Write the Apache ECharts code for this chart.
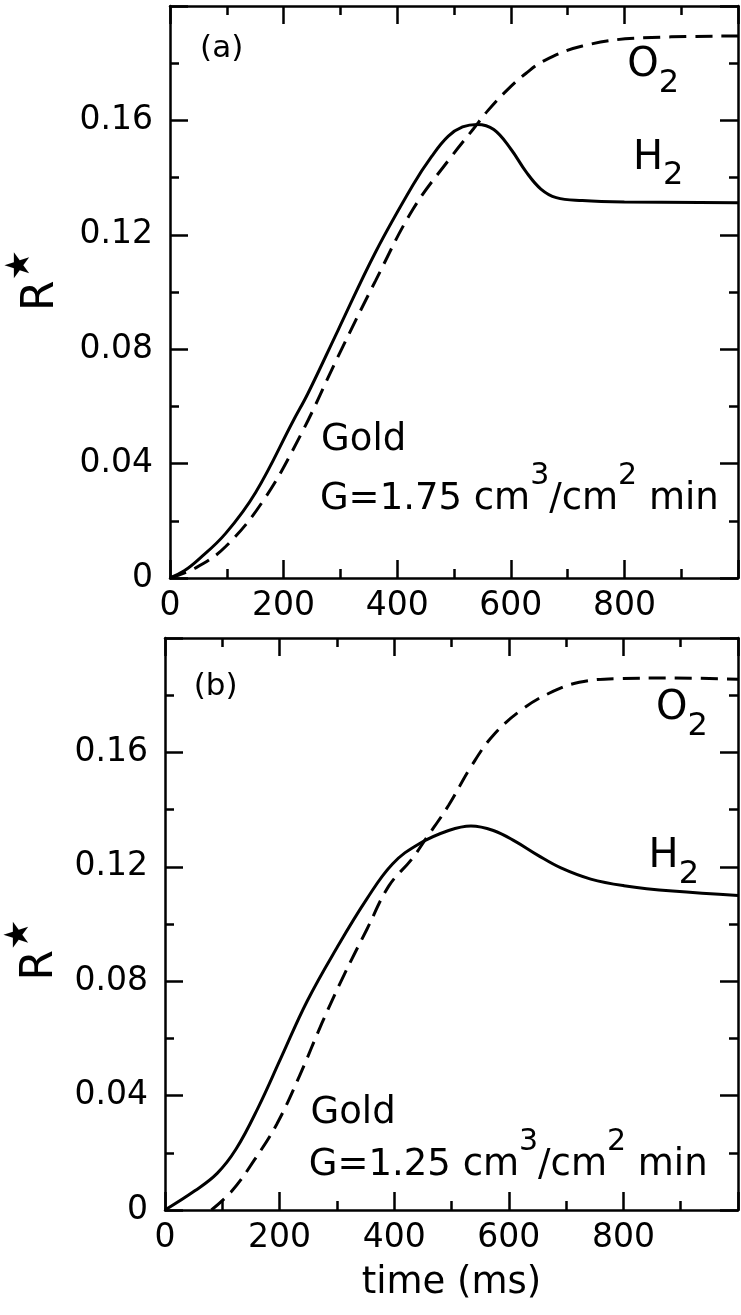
<!DOCTYPE html>
<html><head><meta charset="utf-8">
<script src="https://cdn.jsdelivr.net/npm/echarts@6/dist/echarts.min.js"></script>
<style>html,body{margin:0;padding:0;background:#fff}#c{width:741px;height:1315px}</style>
</head><body><div id="c"></div>
<script>
// ---- data (time in ms, R*) ----
const xTickValues = [0, 200, 400, 600, 800];
const yTickValues = [0, 0.04, 0.08, 0.12, 0.16];

// Panel (a): Gold, G = 1.75
const aH2_t = [0, 25, 51, 98, 151, 217, 243, 296, 362, 428, 461, 490, 515, 541, 570, 600, 627, 653, 680, 726, 800, 1000];
const aH2_r = [0, 0.0025, 0.0066, 0.0156, 0.030, 0.055, 0.0646, 0.0867, 0.114, 0.1375, 0.1475, 0.1545, 0.1577, 0.1586, 0.1568, 0.150, 0.142, 0.136, 0.133, 0.132, 0.1315, 0.1312];
const aO2_t = [0, 45, 98, 164, 230, 296, 362, 428, 494, 534, 560, 593, 627, 660, 726, 825, 1000];
const aO2_r = [0, 0.0035, 0.011, 0.027, 0.050, 0.0775, 0.104, 0.129, 0.147, 0.157, 0.1635, 0.1705, 0.1765, 0.181, 0.186, 0.1888, 0.1895];

// Panel (b): Gold, G = 1.25
const bH2_t = [0, 52, 91, 124, 163, 202, 248, 300, 352, 397, 443, 495, 534, 573, 612, 651, 691, 743, 801, 886, 1000];
const bH2_r = [0, 0.0067, 0.0128, 0.0213, 0.036, 0.053, 0.073, 0.0917, 0.1087, 0.121, 0.128, 0.1327, 0.1343, 0.1327, 0.1288, 0.124, 0.1196, 0.1157, 0.1134, 0.1115, 0.1100];
const bO2_t = [81, 117, 156, 195, 235, 274, 313, 352, 391, 430, 456, 495, 534, 573, 625, 678, 723, 788, 886, 1000];
const bO2_r = [0, 0.0067, 0.0175, 0.030, 0.047, 0.0654, 0.0824, 0.098, 0.1134, 0.1225, 0.130, 0.1415, 0.155, 0.166, 0.1753, 0.1814, 0.1845, 0.1858, 0.186, 0.1856];

const panelLabels = ['(a)', '(b)'];
const goldLabel = 'Gold';
const flowLabels = [['G=1.75 cm', '3', '/cm', '2', ' min'], ['G=1.25 cm', '3', '/cm', '2', ' min']];

// ---- chart ----
const FONT = 'DejaVu Sans';
const BLACK = '#000';
const zip = (t, r) => t.map((v, i) => [v, r[i]]);

const chart = echarts.init(document.getElementById('c'), null, {renderer: 'canvas'});

const grids = [
  {left: 170, top: 6, width: 569, height: 572},
  {left: 165, top: 638, width: 573, height: 572}
];

function xAx(gi, pos, showLabel, extra) {
  return Object.assign({
    type: 'value', gridIndex: gi, position: pos, min: 0, max: 1000, interval: 200,
    axisLine: {show: true, onZero: false, lineStyle: {color: BLACK, width: 2.5}},
    axisTick: {show: true, inside: true, length: 18, lineStyle: {color: BLACK, width: 2.5}},
    minorTick: {show: true, splitNumber: 2, length: 9, lineStyle: {color: BLACK, width: 2.5}},
    splitLine: {show: false}, minorSplitLine: {show: false},
    axisLabel: {show: showLabel, color: BLACK, fontFamily: FONT, fontSize: 33, margin: 12,
      formatter: v => xTickValues.includes(v) ? String(v) : ''}
  }, extra || {});
}
function yAx(gi, pos, showLabel) {
  return {
    type: 'value', gridIndex: gi, position: pos, min: 0, max: 0.2, interval: 0.04,
    axisLine: {show: true, onZero: false, lineStyle: {color: BLACK, width: 2.5}},
    axisTick: {show: true, inside: true, length: 18, lineStyle: {color: BLACK, width: 2.5}},
    minorTick: {show: true, splitNumber: 2, length: 9, lineStyle: {color: BLACK, width: 2.5}},
    splitLine: {show: false}, minorSplitLine: {show: false},
    axisLabel: {show: showLabel, color: BLACK, fontFamily: FONT, fontSize: 33, margin: 17,
      formatter: v => {
        const m = yTickValues.find(t => Math.abs(t - v) < 1e-9);
        if (m === undefined) return '';
        return m === 0 ? '0' : m.toFixed(2);
      }}
  };
}

const lineSolid = {color: BLACK, width: 3, type: 'solid'};
const lineDash = {color: BLACK, width: 3, type: [17, 9]};
function ser(xi, yi, data, style) {
  return {type: 'line', xAxisIndex: xi, yAxisIndex: yi, data: data, smooth: 0.4,
    showSymbol: false, symbol: 'none', lineStyle: style, silent: true, animation: false, clip: true};
}

chart.setOption({
  animation: false,
  backgroundColor: '#fff',
  grid: grids,
  xAxis: [
    xAx(0, 'bottom', true),
    xAx(0, 'top', false),
    xAx(1, 'bottom', true, {name: 'time (ms)', nameLocation: 'middle', nameGap: 55,
      nameTextStyle: {color: BLACK, fontFamily: FONT, fontSize: 37}}),
    xAx(1, 'top', false)
  ],
  yAxis: [
    yAx(0, 'left', true), yAx(0, 'right', false),
    yAx(1, 'left', true), yAx(1, 'right', false)
  ],
  series: [
    ser(0, 0, zip(aH2_t, aH2_r), lineSolid),
    ser(0, 0, zip(aO2_t, aO2_r), lineDash),
    ser(2, 2, zip(bH2_t, bH2_r), lineSolid),
    ser(2, 2, zip(bO2_t, bO2_r), lineDash)
  ]
});

// ---- annotations, positioned in data coordinates ----
const ann = [
  {p: 0, k: 'panel', x: 53, y: 0.185},
  {p: 0, k: 'O2', x: 805, y: 0.179},
  {p: 0, k: 'H2', x: 815, y: 0.1468},
  {p: 0, k: 'gold', x: 266, y: 0.048},
  {p: 0, k: 'flow', x: 264, y: 0.0275},
  {p: 0, k: 'R', x: -227, y: 0.104},
  {p: 1, k: 'panel', x: 50, y: 0.183},
  {p: 1, k: 'O2', x: 857, y: 0.1753},
  {p: 1, k: 'H2', x: 844, y: 0.1235},
  {p: 1, k: 'gold', x: 254, y: 0.0337},
  {p: 1, k: 'flow', x: 251, y: 0.0156},
  {p: 1, k: 'R', x: -218, y: 0.0909}
];

const graphics = ann.map(a => {
  const px = chart.convertToPixel({xAxisIndex: a.p * 2, yAxisIndex: a.p * 2}, [a.x, a.y]);
  const base = {type: 'text', x: px[0], y: px[1], silent: true, z: 100};
  if (a.k === 'panel') {
    base.style = {text: panelLabels[a.p], fill: BLACK, font: '31px "DejaVu Sans"', align: 'left', verticalAlign: 'middle'};
  } else if (a.k === 'gold') {
    base.style = {text: goldLabel, fill: BLACK, font: '37px "DejaVu Sans"', align: 'left', verticalAlign: 'middle'};
  } else if (a.k === 'O2' || a.k === 'H2') {
    base.style = {
      text: '{m|' + a.k[0] + '}{s|2}', align: 'left', verticalAlign: 'middle',
      rich: {
        m: {fontFamily: FONT, fontSize: 40, lineHeight: 68, fill: BLACK, color: BLACK},
        s: {fontFamily: FONT, fontSize: 32, lineHeight: 34, verticalAlign: 'bottom', fill: BLACK, color: BLACK}
      }
    };
  } else if (a.k === 'flow') {
    const f = flowLabels[a.p];
    base.style = {
      text: '{m|' + f[0] + '}{s|' + f[1] + '}{m|' + f[2] + '}{s|' + f[3] + '}{m|' + f[4] + '}',
      align: 'left', verticalAlign: 'middle',
      rich: {
        m: {fontFamily: FONT, fontSize: 37, lineHeight: 76, fill: BLACK, color: BLACK},
        s: {fontFamily: FONT, fontSize: 30, lineHeight: 30, verticalAlign: 'top', fill: BLACK, color: BLACK}
      }
    };
  } else if (a.k === 'R') {
    base.rotation = Math.PI / 2;
    base.style = {
      text: '{m|R}{s|★}', align: 'center', verticalAlign: 'middle',
      rich: {
        m: {fontFamily: FONT, fontSize: 44, lineHeight: 76, fill: BLACK, color: BLACK},
        s: {fontFamily: FONT, fontSize: 34, lineHeight: 34, verticalAlign: 'top', fill: BLACK, color: BLACK}
      }
    };
  }
  return base;
});
chart.setOption({graphic: graphics});
</script>
</body></html>
